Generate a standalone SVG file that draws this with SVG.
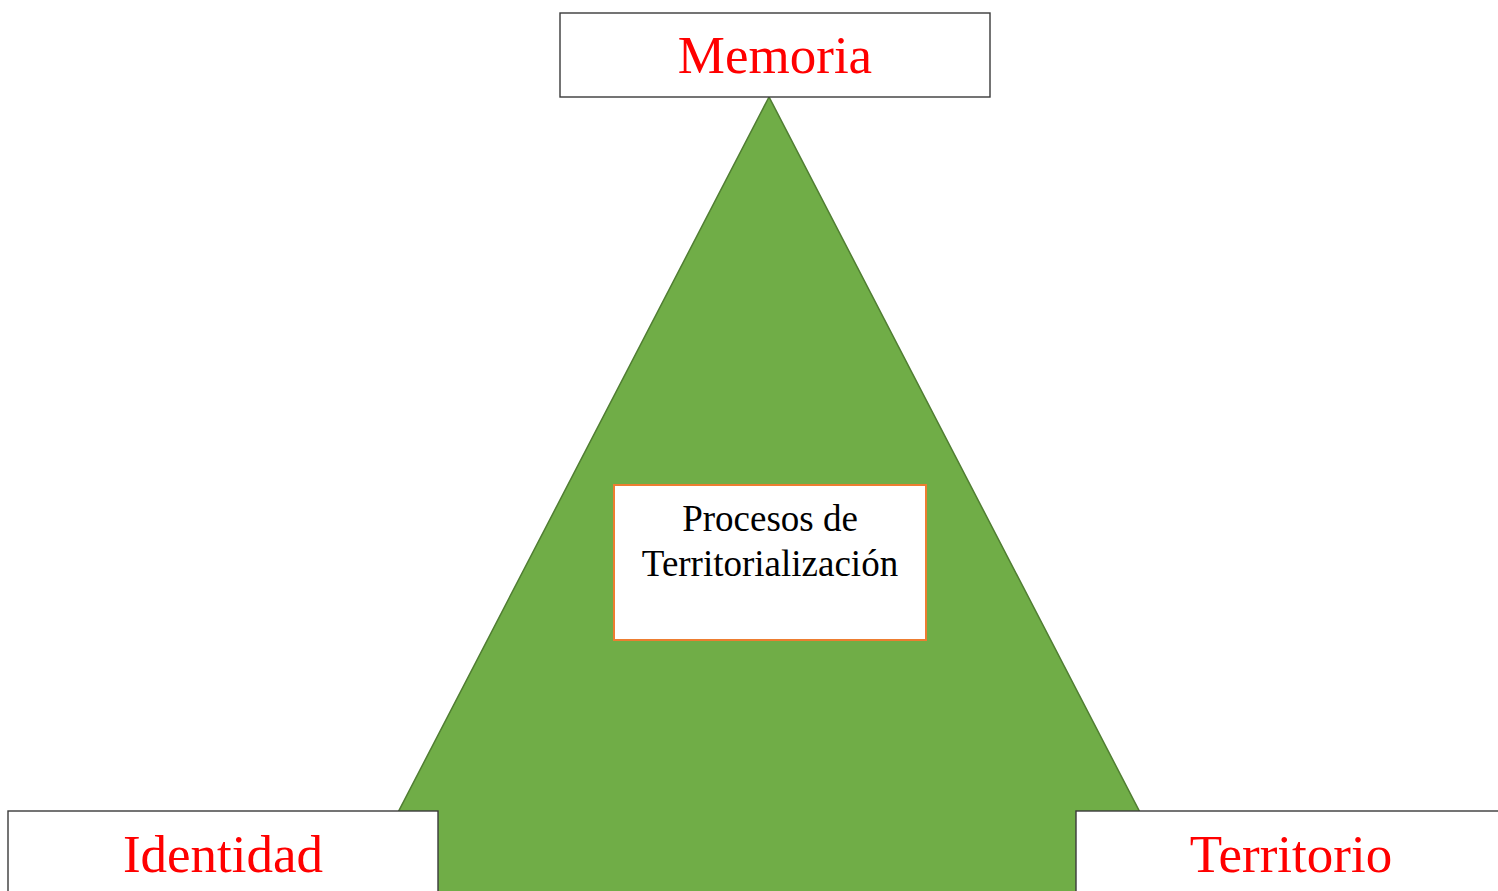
<svg xmlns="http://www.w3.org/2000/svg" width="1498" height="891" viewBox="0 0 1498 891">
<style>
.box{fill:#fff;stroke:#3a3a3a;stroke-width:1.4}
.lbl{font-family:"Liberation Serif","Times New Roman",serif;font-size:53px;fill:#ff0000;text-anchor:middle}
.ctr{font-family:"Liberation Serif","Times New Roman",serif;font-size:37px;fill:#000;text-anchor:middle}
</style>
<rect width="1498" height="891" fill="#fff"/>
<g id="triangle">
<polygon points="769,97 352,901 1186,901" fill="#70ad47" stroke="#507e32" stroke-width="1.5"/>
</g>
<g id="connectors"></g>
<g id="memoria">
<rect class="box" x="560" y="13" width="430" height="84"/>
<text class="lbl" x="775" y="73">Memoria</text>
</g>
<g id="identidad">
<rect class="box" x="8" y="811" width="430" height="100"/>
<text class="lbl" x="223" y="872">Identidad</text>
</g>
<g id="territorio">
<rect class="box" x="1076" y="811" width="430" height="100"/>
<text class="lbl" x="1291" y="872">Territorio</text>
</g>
<g id="procesos">
<rect x="614" y="485" width="312" height="155" fill="#fff" stroke="#ed7d31" stroke-width="2"/>
<text class="ctr" x="770" y="531">Procesos de</text>
<text class="ctr" x="770" y="576">Territorialización</text>
</g>
</svg>
